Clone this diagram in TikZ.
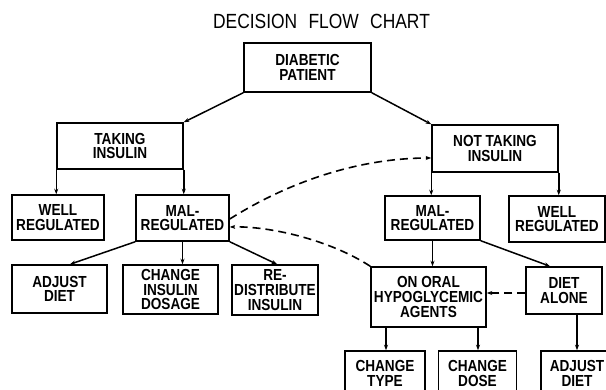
\documentclass[tikz,border=0pt]{standalone}
\usepackage{fontspec}
\setmainfont[FakeStretch=0.85]{Liberation Sans}
\usetikzlibrary{arrows.meta}
\tikzset{
  box/.style={draw, line width=1.5pt, inner sep=0pt, align=center,
    font=\bfseries\fontsize{16}{14.8}\selectfont},
  conn/.style={line width=1.5pt, -{Stealth[length=5.5pt,width=4pt]}},
  dashconn/.style={line width=1.6pt, dash pattern=on 8pt off 5pt,
    -{Stealth[length=5.5pt,width=4pt]}},
}
\begin{document}
\begin{tikzpicture}[x=1pt,y=-1pt]
\useasboundingbox (0,0) rectangle (606,390);
\clip (0,0) rectangle (606,390);
\node[font=\fontsize{20.5}{24}\selectfont] (title) at (321.5,21) {DECISION\hspace{0.55em}FLOW\hspace{0.55em}CHART};

\node[box, minimum width=127pt, minimum height=49pt] (patient) at (307.5,67.5) {DIABETIC\\PATIENT};
\node[box, minimum width=126pt, minimum height=46pt] (taking) at (120,146) {TAKING\\INSULIN};
\node[box, minimum width=126pt, minimum height=47pt] (nottaking) at (495,148.5) {NOT TAKING\\INSULIN};
\node[box, minimum width=92pt, minimum height=45pt] (wellL) at (58,217.5) {WELL\\REGULATED};
\node[box, minimum width=93pt, minimum height=46pt] (malL) at (182.5,218) {MAL-\\REGULATED};
\node[box, minimum width=95pt, minimum height=48pt] (adjustL) at (59.5,289) {ADJUST\\DIET};
\node[box, minimum width=95pt, minimum height=49pt] (changeins) at (170.5,289.5) {CHANGE\\INSULIN\\DOSAGE};
\node[box, minimum width=86pt, minimum height=50pt] (redist) at (275,290) {RE-\\DISTRIBUTE\\INSULIN};
\node[box, minimum width=95pt, minimum height=44pt] (malR) at (432.5,218) {MAL-\\REGULATED};
\node[box, minimum width=96pt, minimum height=46pt] (wellR) at (557,219) {WELL\\REGULATED};
\node[box, minimum width=115pt, minimum height=60pt] (oral) at (428.5,297) {ON ORAL\\HYPOGLYCEMIC\\AGENTS};
\node[box, minimum width=76pt, minimum height=47pt] (dietalone) at (564,290.5) {DIET\\ALONE};
\node[box, minimum width=80pt, minimum height=45pt] (changetype) at (385,373.5) {CHANGE\\TYPE};
\node[box, minimum width=78pt, minimum height=45pt] (changedose) at (477.5,373.5) {CHANGE\\DOSE};
\node[box, minimum width=72pt, minimum height=45pt] (adjustR) at (577,373.5) {ADJUST\\DIET};

% solid connectors
\draw[conn] (patient.south west) -- (taking.north east);
\draw[conn] (patient.south east) -- (nottaking.north west);
\draw[conn] (taking.south west) -- (taking.south west |- wellL.north);
\draw[conn] (taking.south east) -- (taking.south east |- malL.north);
\draw[conn] (nottaking.south west) -- (nottaking.south west |- malR.north);
\draw[conn] (nottaking.south east) -- (nottaking.south east |- wellR.north);
\draw[conn] (malL.south west) -- ([xshift=10.5pt]adjustL.north);
\draw[conn] (malL.south) -- (malL.south |- changeins.north);
\draw[conn] (malL.south east) -- ([xshift=2pt]redist.north);
\draw[conn] (malR.south) -- (malR.south |- oral.north);
\draw[conn] (malR.south east) -- ([xshift=-14pt]dietalone.north);
\draw[conn] ([xshift=-42.5pt]oral.south) -- ([xshift=-42.5pt]oral.south |- changetype.north);
\draw[conn] ([xshift=49.5pt]oral.south) -- ([xshift=49.5pt]oral.south |- changedose.north);
\draw[conn] ([xshift=13pt]dietalone.south) -- ([xshift=13pt]dietalone.south |- adjustR.north);

% dashed connectors
\draw[dashconn] (dietalone.west |- 0,293) -- (oral.east |- 0,293);
\draw[dashconn] ([yshift=-1pt]malL.east) .. controls (300,175) and (370,158) .. (nottaking.west |- 0,158);
\draw[dashconn] (oral.north west) .. controls (330,240) and (270,226) .. (malL.east |- 0,227);
\end{tikzpicture}
\end{document}
